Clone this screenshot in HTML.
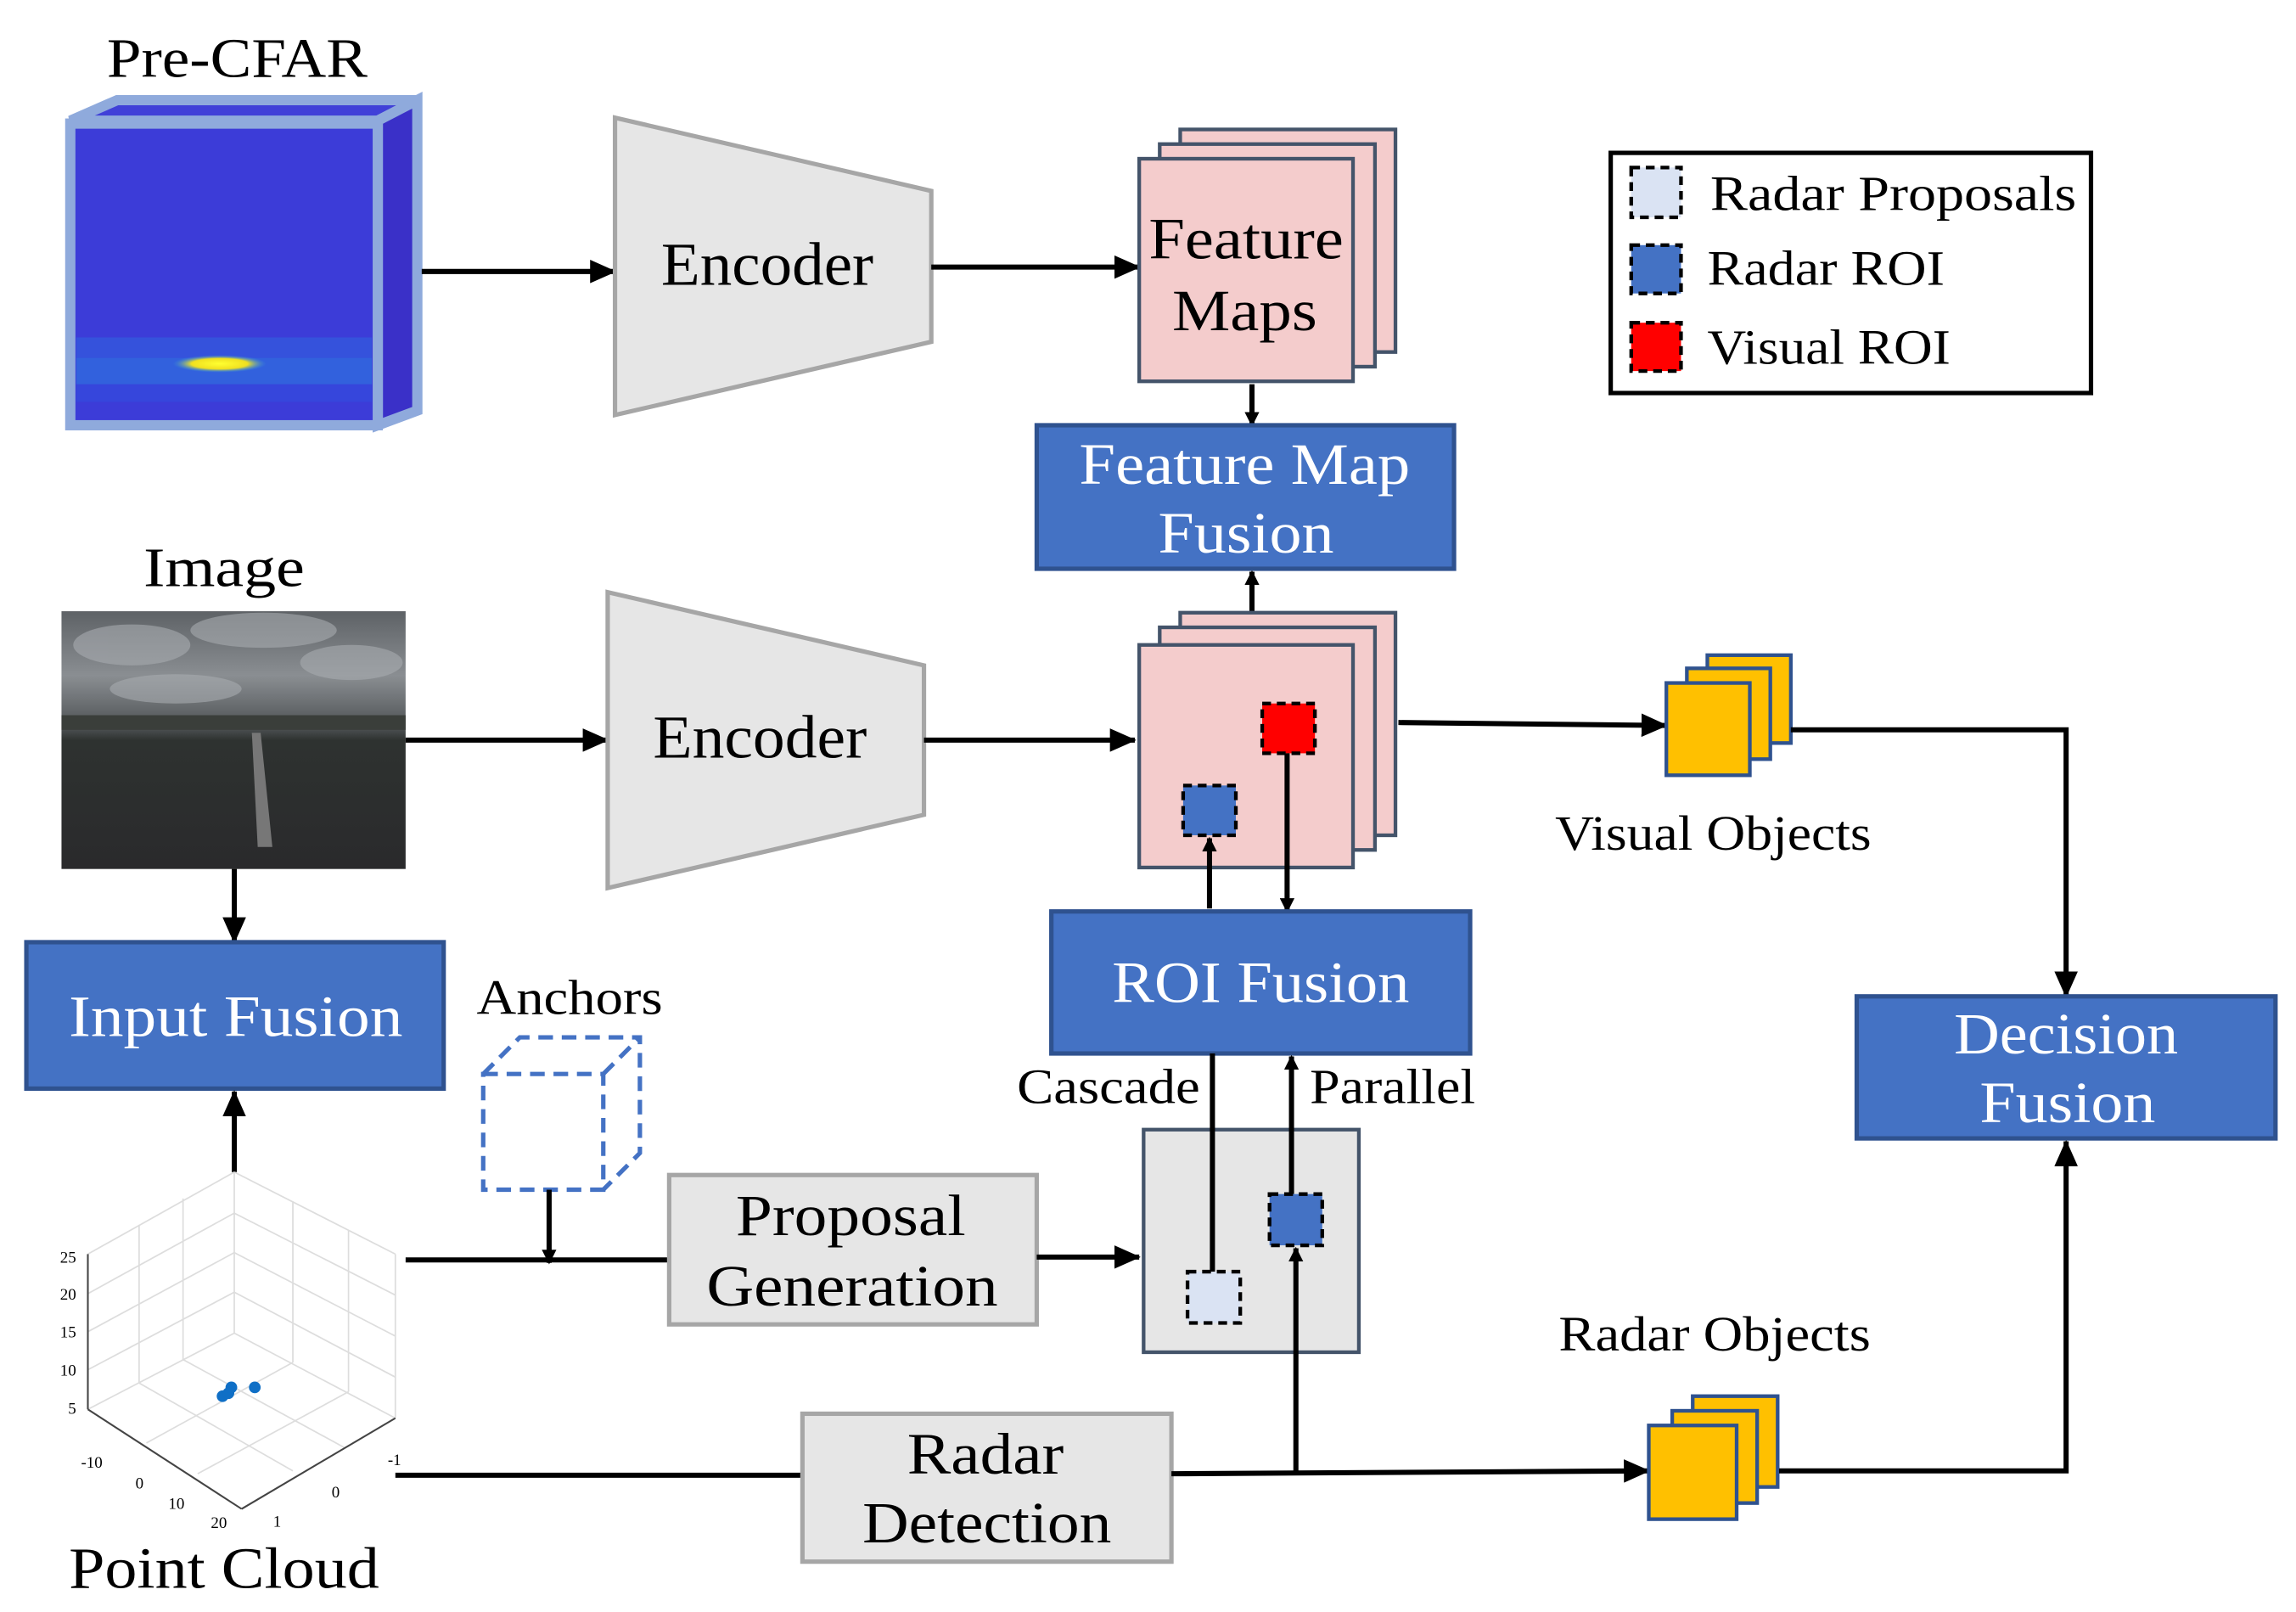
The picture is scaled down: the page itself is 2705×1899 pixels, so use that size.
<!DOCTYPE html>
<html><head><meta charset="utf-8"><style>
html,body{margin:0;padding:0;background:#fff}
svg{display:block}
text{font-family:"Liberation Serif",serif;fill:#000}
</style></head><body>
<svg width="2705" height="1899" viewBox="0 0 1568 1100" xmlns="http://www.w3.org/2000/svg">
<defs>
<marker id="a" markerWidth="10" markerHeight="10" refX="9" refY="5" orient="auto" markerUnits="userSpaceOnUse" viewBox="0 0 10 10"><path d="M0,0 L10,5 L0,10z" fill="#000"/></marker>
<marker id="b" markerWidth="18" markerHeight="16" refX="17" refY="8" orient="auto" markerUnits="userSpaceOnUse" viewBox="0 0 18 16"><path d="M0,0 L18,8 L0,16z" fill="#000"/></marker>
<linearGradient id="sky" x1="0" y1="0" x2="0" y2="1">
<stop offset="0" stop-color="#5e6266"/><stop offset="0.25" stop-color="#8a8e92"/><stop offset="0.45" stop-color="#505456"/><stop offset="0.5" stop-color="#2e3230"/><stop offset="1" stop-color="#2a2a2c"/></linearGradient>
<radialGradient id="blob"><stop offset="0" stop-color="#ffff30"/><stop offset="0.6" stop-color="#f0e020"/><stop offset="1" stop-color="#30a0e0" stop-opacity="0"/></radialGradient>
</defs>
<!-- Pre-CFAR cube -->
<text x="162" y="52" font-size="38" text-anchor="middle" textLength="178" lengthAdjust="spacingAndGlyphs">Pre-CFAR</text>
<polygon points="48,82 80,68 285,68 258,82" fill="#4040d8" stroke="#8faadc" stroke-width="7"/>
<polygon points="258,82 285,68 285,280 258,290" fill="#3a30c8" stroke="#8faadc" stroke-width="7"/>
<rect x="48" y="84" width="210" height="206" fill="#3c3cd8" stroke="#8faadc" stroke-width="7"/>
<rect x="52" y="230" width="202" height="14" fill="#3060e0" opacity="0.6"/>
<rect x="52" y="244" width="202" height="18" fill="#2e70e0" opacity="0.7"/>
<rect x="52" y="262" width="202" height="12" fill="#3050e0" opacity="0.5"/>
<ellipse cx="150" cy="248" rx="32" ry="6" fill="url(#blob)"/>
<line x1="288" y1="185" x2="420" y2="185" stroke="#000" stroke-width="3.5" marker-end="url(#b)"/>
<!-- Encoder 1 -->
<polygon points="420,80 636,130 636,233 420,283" fill="#e6e6e6" stroke="#a6a6a6" stroke-width="3"/>
<text x="524" y="194" font-size="42" text-anchor="middle" textLength="145" lengthAdjust="spacingAndGlyphs">Encoder</text>
<line x1="636" y1="182" x2="778" y2="182" stroke="#000" stroke-width="3.5" marker-end="url(#b)"/>
<!-- Feature maps -->
<g fill="#f4cccc" stroke="#44546a" stroke-width="2.5">
<rect x="806" y="88" width="147" height="152"/><rect x="792" y="98" width="147" height="152"/><rect x="778" y="108" width="146" height="152"/></g>
<text x="851" y="176" font-size="40" text-anchor="middle" textLength="133" lengthAdjust="spacingAndGlyphs">Feature</text>
<text x="850" y="225" font-size="40" text-anchor="middle" textLength="99" lengthAdjust="spacingAndGlyphs">Maps</text>
<line x1="855" y1="262" x2="855" y2="290" stroke="#000" stroke-width="3.5" marker-end="url(#a)"/>
<rect x="708" y="290" width="285" height="98" fill="#4472c4" stroke="#2f528f" stroke-width="3"/>
<text x="850" y="330" font-size="40" text-anchor="middle" style="fill:#fff" textLength="226" lengthAdjust="spacingAndGlyphs">Feature Map</text>
<text x="851" y="377" font-size="40" text-anchor="middle" style="fill:#fff" textLength="120" lengthAdjust="spacingAndGlyphs">Fusion</text>
<line x1="855" y1="418" x2="855" y2="390" stroke="#000" stroke-width="3.5" marker-end="url(#a)"/>
<!-- Legend -->
<rect x="1100" y="104" width="328" height="164" fill="#fff" stroke="#000" stroke-width="3"/>
<g stroke="#000" stroke-width="2.5" stroke-dasharray="6,4">
<rect x="1114" y="114" width="34" height="34" fill="#dae3f3"/>
<rect x="1114" y="167" width="34" height="33" fill="#4472c4"/>
<rect x="1114" y="220" width="34" height="33" fill="#ff0000"/></g>
<text x="1168" y="143" font-size="34" textLength="250" lengthAdjust="spacingAndGlyphs">Radar Proposals</text>
<text x="1166" y="194" font-size="34" textLength="162" lengthAdjust="spacingAndGlyphs">Radar ROI</text>
<text x="1166" y="248" font-size="34" textLength="166" lengthAdjust="spacingAndGlyphs">Visual ROI</text>
<!-- Image -->
<text x="153" y="400" font-size="38" text-anchor="middle" textLength="110" lengthAdjust="spacingAndGlyphs">Image</text>
<rect x="42" y="417" width="235" height="176" fill="url(#sky)"/>
<g fill="#a8acb0" opacity="0.6">
<ellipse cx="90" cy="440" rx="40" ry="14"/><ellipse cx="180" cy="430" rx="50" ry="12"/><ellipse cx="240" cy="452" rx="35" ry="12"/><ellipse cx="120" cy="470" rx="45" ry="10"/></g>
<rect x="42" y="488" width="235" height="10" fill="#3a3e3a"/>
<polygon points="172,500 178,500 186,578 176,578" fill="#777"/>
<line x1="277" y1="505" x2="415" y2="505" stroke="#000" stroke-width="3.5" marker-end="url(#b)"/>
<polygon points="415,404 631,454 631,556 415,606" fill="#e6e6e6" stroke="#a6a6a6" stroke-width="3"/>
<text x="519" y="517" font-size="42" text-anchor="middle" textLength="146" lengthAdjust="spacingAndGlyphs">Encoder</text>
<line x1="631" y1="505" x2="775" y2="505" stroke="#000" stroke-width="3.5" marker-end="url(#b)"/>
<g fill="#f4cccc" stroke="#44546a" stroke-width="2.5">
<rect x="806" y="418" width="147" height="152"/><rect x="792" y="428" width="147" height="152"/><rect x="778" y="440" width="146" height="152"/></g>
<g stroke="#000" stroke-width="2.5" stroke-dasharray="6,4">
<rect x="862" y="480" width="36" height="34" fill="#ff0000"/>
<rect x="808" y="536" width="36" height="34" fill="#4472c4"/></g>
<line x1="955" y1="493" x2="1138" y2="495" stroke="#000" stroke-width="3.5" marker-end="url(#b)"/>
<g fill="#ffc000" stroke="#2f528f" stroke-width="2.5">
<rect x="1166" y="447" width="57" height="60"/><rect x="1152" y="456" width="57" height="62"/><rect x="1138" y="466" width="57" height="63"/></g>
<text x="1170" y="580" font-size="34" text-anchor="middle" textLength="216" lengthAdjust="spacingAndGlyphs">Visual Objects</text>
<polyline points="1223,498 1411,498 1411,680" fill="none" stroke="#000" stroke-width="3.5" marker-end="url(#b)"/>
<rect x="1268" y="680" width="286" height="97" fill="#4472c4" stroke="#2f528f" stroke-width="3"/>
<text x="1411" y="719" font-size="40" text-anchor="middle" style="fill:#fff" textLength="153" lengthAdjust="spacingAndGlyphs">Decision</text>
<text x="1412" y="766" font-size="40" text-anchor="middle" style="fill:#fff" textLength="120" lengthAdjust="spacingAndGlyphs">Fusion</text>
<!-- Input fusion -->
<line x1="160" y1="593" x2="160" y2="643" stroke="#000" stroke-width="3.5" marker-end="url(#b)"/>
<rect x="18" y="643" width="285" height="100" fill="#4472c4" stroke="#2f528f" stroke-width="3"/>
<text x="161" y="707" font-size="40" text-anchor="middle" style="fill:#fff" textLength="228" lengthAdjust="spacingAndGlyphs">Input Fusion</text>
<line x1="160" y1="800" x2="160" y2="745" stroke="#000" stroke-width="3.5" marker-end="url(#b)"/>
<!-- ROI fusion -->
<line x1="826" y1="620" x2="826" y2="572" stroke="#000" stroke-width="3.5" marker-end="url(#a)"/>
<line x1="879" y1="514" x2="879" y2="622" stroke="#000" stroke-width="3.5" marker-end="url(#a)"/>
<rect x="718" y="622" width="286" height="97" fill="#4472c4" stroke="#2f528f" stroke-width="3"/>
<text x="861" y="684" font-size="40" text-anchor="middle" style="fill:#fff" textLength="203" lengthAdjust="spacingAndGlyphs">ROI Fusion</text>
<text x="757" y="753" font-size="34" text-anchor="middle" textLength="125" lengthAdjust="spacingAndGlyphs">Cascade</text>
<text x="951" y="753" font-size="34" text-anchor="middle" textLength="113" lengthAdjust="spacingAndGlyphs">Parallel</text>
<rect x="781" y="771" width="147" height="152" fill="#e6e6e6" stroke="#44546a" stroke-width="2.5"/>
<line x1="828" y1="719" x2="828" y2="868" stroke="#000" stroke-width="3.5"/>
<line x1="882" y1="815" x2="882" y2="721" stroke="#000" stroke-width="3.5" marker-end="url(#a)"/>
<g stroke="#000" stroke-width="2.5" stroke-dasharray="6,4">
<rect x="811" y="868" width="36" height="35" fill="#dae3f3"/>
<rect x="867" y="815" width="36" height="35" fill="#4472c4"/></g>
<!-- Anchors -->
<text x="389" y="692" font-size="34" text-anchor="middle" textLength="127" lengthAdjust="spacingAndGlyphs">Anchors</text>
<g fill="none" stroke="#4472c4" stroke-width="3" stroke-dasharray="10,6">
<rect x="330" y="733" width="82" height="79"/>
<polyline points="330,733 355,708 437,708 437,787 412,812"/>
<line x1="412" y1="733" x2="437" y2="708"/></g>
<line x1="375" y1="812" x2="375" y2="862" stroke="#000" stroke-width="3.5" marker-end="url(#a)"/>
<line x1="277" y1="860" x2="457" y2="860" stroke="#000" stroke-width="3.5"/>
<rect x="457" y="802" width="251" height="102" fill="#e6e6e6" stroke="#a6a6a6" stroke-width="3"/>
<text x="581" y="843" font-size="40" text-anchor="middle" textLength="157" lengthAdjust="spacingAndGlyphs">Proposal</text>
<text x="582" y="891" font-size="40" text-anchor="middle" textLength="199" lengthAdjust="spacingAndGlyphs">Generation</text>
<line x1="708" y1="858" x2="778" y2="858" stroke="#000" stroke-width="3.5" marker-end="url(#b)"/>
<!-- Point cloud -->
<g stroke="#ddd" stroke-width="1" fill="none">
<line x1="60" y1="856" x2="60" y2="962"/><line x1="60" y1="856" x2="160" y2="800"/><line x1="160" y1="800" x2="270" y2="856"/>
<line x1="160" y1="800" x2="160" y2="910"/><line x1="270" y1="856" x2="270" y2="968"/>
<line x1="60" y1="962" x2="160" y2="910"/><line x1="160" y1="910" x2="270" y2="968"/>
<line x1="95" y1="836" x2="95" y2="944"/><line x1="125" y1="818" x2="125" y2="928"/>
<line x1="200" y1="820" x2="200" y2="930"/><line x1="238" y1="840" x2="238" y2="950"/>
<line x1="60" y1="883" x2="160" y2="828"/><line x1="60" y1="909" x2="160" y2="855"/><line x1="60" y1="935" x2="160" y2="882"/>
<line x1="160" y1="828" x2="270" y2="884"/><line x1="160" y1="855" x2="270" y2="912"/><line x1="160" y1="882" x2="270" y2="940"/>
<line x1="95" y1="944" x2="200" y2="1004"/><line x1="125" y1="928" x2="235" y2="988"/>
<line x1="200" y1="930" x2="100" y2="985"/><line x1="238" y1="950" x2="135" y2="1006"/></g>
<g stroke="#444" stroke-width="1.2" fill="none">
<line x1="60" y1="856" x2="60" y2="962"/><line x1="60" y1="962" x2="165" y2="1030"/><line x1="165" y1="1030" x2="270" y2="968"/></g>
<g font-size="11" text-anchor="end">
<text x="52" y="862">25</text><text x="52" y="887">20</text><text x="52" y="913">15</text><text x="52" y="939">10</text><text x="52" y="965">5</text>
<text x="70" y="1002">-10</text><text x="98" y="1016">0</text><text x="126" y="1030">10</text><text x="155" y="1043">20</text>
<text x="274" y="1000">-1</text><text x="232" y="1022">0</text><text x="192" y="1042">1</text></g>
<g fill="#0f6fc6"><circle cx="152" cy="953" r="4"/><circle cx="158" cy="947" r="4"/><circle cx="156" cy="951" r="4"/><circle cx="174" cy="947" r="4"/></g>
<text x="153" y="1084" font-size="40" text-anchor="middle" textLength="212" lengthAdjust="spacingAndGlyphs">Point Cloud</text>
<!-- Radar detection -->
<line x1="270" y1="1007" x2="548" y2="1007" stroke="#000" stroke-width="3.5"/>
<rect x="548" y="965" width="252" height="101" fill="#e6e6e6" stroke="#a6a6a6" stroke-width="3"/>
<text x="673" y="1006" font-size="40" text-anchor="middle" textLength="107" lengthAdjust="spacingAndGlyphs">Radar</text>
<text x="674" y="1053" font-size="40" text-anchor="middle" textLength="170" lengthAdjust="spacingAndGlyphs">Detection</text>
<line x1="800" y1="1006" x2="1126" y2="1004" stroke="#000" stroke-width="3.5" marker-end="url(#b)"/>
<line x1="885" y1="1006" x2="885" y2="852" stroke="#000" stroke-width="3.5" marker-end="url(#a)"/>
<text x="1171" y="922" font-size="34" text-anchor="middle" textLength="213" lengthAdjust="spacingAndGlyphs">Radar Objects</text>
<g fill="#ffc000" stroke="#2f528f" stroke-width="2.5">
<rect x="1156" y="953" width="58" height="62"/><rect x="1142" y="963" width="58" height="63"/><rect x="1126" y="973" width="60" height="64"/></g>
<polyline points="1215,1004 1411,1004 1411,779" fill="none" stroke="#000" stroke-width="3.5" marker-end="url(#b)"/>
</svg>
</body></html>
